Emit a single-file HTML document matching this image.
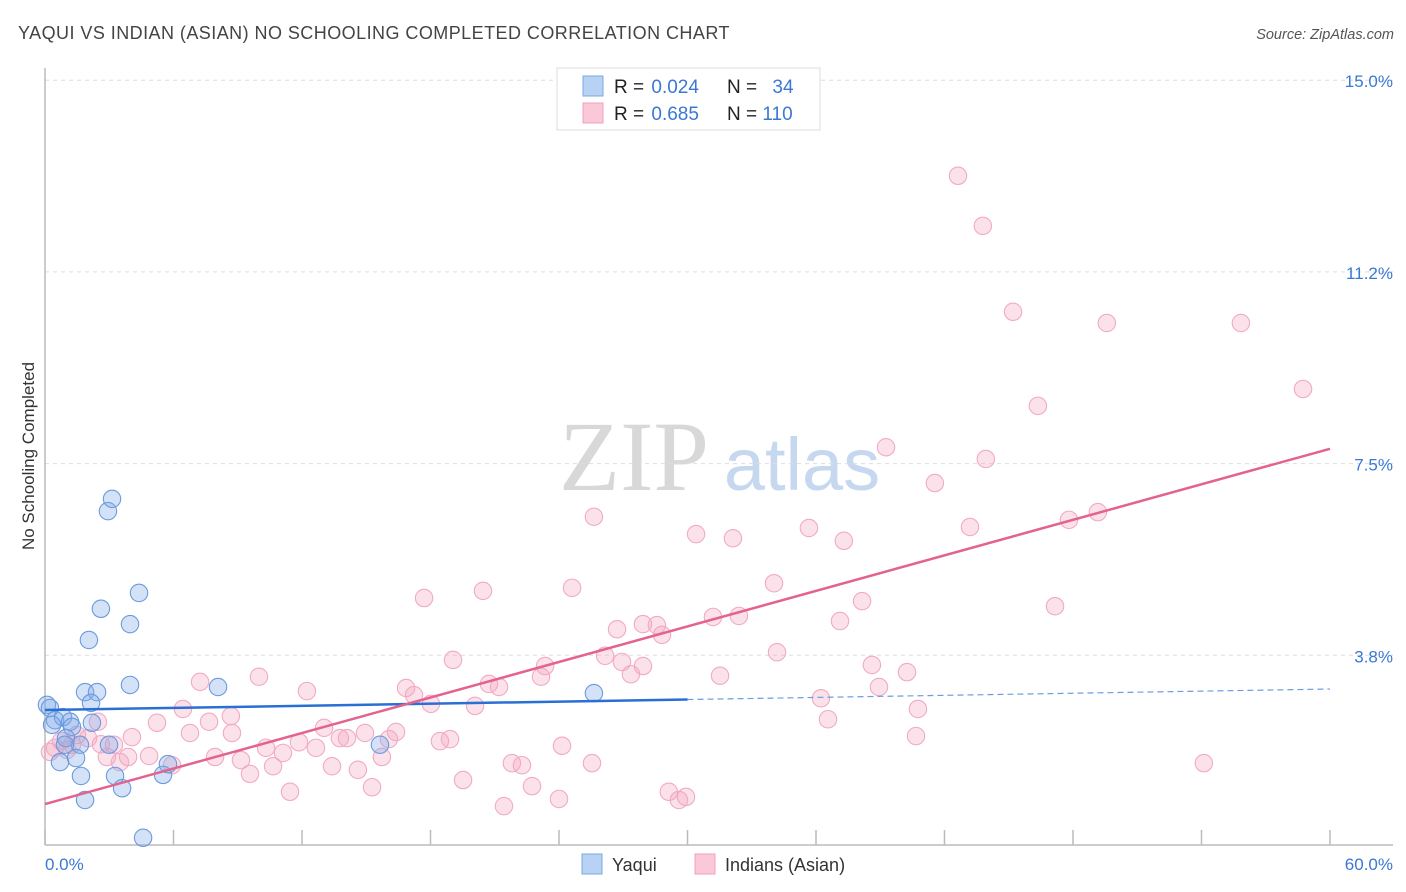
<!DOCTYPE html>
<html><head><meta charset="utf-8"><style>
body{margin:0;background:#fff;font-family:"Liberation Sans",sans-serif;}
svg{display:block}
</style></head><body>
<svg id="chart" width="1406" height="892">
<text x="18" y="39" font-size="18" letter-spacing="0.45" fill="#444">YAQUI VS INDIAN (ASIAN) NO SCHOOLING COMPLETED CORRELATION CHART</text>
<text x="1394" y="39" font-size="14.5" fill="#555" font-style="italic" text-anchor="end">Source: ZipAtlas.com</text>
<g>
<text x="634" y="490" font-size="100" fill="#d8d8d8" font-family="Liberation Serif,serif" text-anchor="middle">ZIP</text>
<text x="802" y="490" font-size="74" fill="#c6d8f0" text-anchor="middle">atlas</text>
</g>
<text transform="translate(34,456) rotate(-90)" font-size="17" fill="#333" text-anchor="middle">No Schooling Completed</text>
<g id="grid"></g><g id="axes"></g><g id="marks"></g><g id="trends"></g>
<g>
<rect x="557" y="68" width="263" height="62" fill="#fff" stroke="#ddd"/>
<rect x="583" y="76" width="20" height="20" fill="#b8d2f4" stroke="#7aa7e3"/>
<rect x="583" y="103" width="20" height="20" fill="#fac9d8" stroke="#f0a0bc"/>
<text x="614" y="93" font-size="19" fill="#222">R = <tspan fill="#3a78d4" dx="2">0.024</tspan></text>
<text x="727" y="93" font-size="19" fill="#222">N = <tspan fill="#3a78d4" dx="10">34</tspan></text>
<text x="614" y="120" font-size="19" fill="#222">R = <tspan fill="#3a78d4" dx="2">0.685</tspan></text>
<text x="727" y="120" font-size="19" fill="#222">N = <tspan fill="#3a78d4">110</tspan></text>
</g>
<g>
<rect x="582" y="854" width="20" height="20" fill="#b8d2f4" stroke="#7aa7e3"/>
<text x="612" y="871" font-size="18" fill="#333">Yaqui</text>
<rect x="695" y="854" width="20" height="20" fill="#fac9d8" stroke="#f0a0bc"/>
<text x="725" y="871" font-size="18" fill="#333">Indians (Asian)</text>
</g>
</svg>
<script>
const yTicks=[3.75,7.5,11.25,15];
const yTickLabels=["3.8%","7.5%","11.2%","15.0%"];
const xTicks=[0,6,12,18,24,30,36,42,48,54,60];
const yaquiX=[0.09,0.23,0.47,0.84,1.17,1.26,1.63,0.7,0.98,1.45,1.68,1.87,1.87,2.43,2.15,2.19,2.05,2.61,2.94,3.13,2.99,3.27,3.6,3.97,4.39,3.97,4.58,5.51,5.74,8.08,15.64,25.63,0.33,0.93];
const yaquiY=[2.78,2.72,2.48,2.54,2.45,2.35,2.0,1.66,2.13,1.74,1.39,0.92,3.03,3.03,2.82,2.43,4.05,4.66,6.57,6.81,2.0,1.39,1.15,4.36,4.97,3.17,0.18,1.41,1.62,3.13,2.0,3.01,2.39,2.0];
const indX=[42.63,43.79,45.2,49.58,55.84,58.74,46.36,39.27,43.93,41.55,25.63,35.67,43.19,47.81,49.16,30.4,32.12,37.3,34.04,17.7,20.45,24.61,38.15,47.16,31.19,32.4,26.71,27.92,28.57,28.81,37.12,19.05,23.35,26.15,26.94,27.92,27.36,23.16,31.52,34.18,38.61,40.25,38.94,36.23,40.76,40.67,36.56,54.11,7.24,9.99,12.23,16.86,17.23,20.73,21.2,18.02,20.08,6.44,8.68,5.23,7.66,6.77,8.73,4.06,13.03,14.1,14.94,16.39,16.06,11.86,18.44,18.91,24.14,10.32,11.11,12.65,13.77,2.47,3.88,4.86,5.93,3.22,1.49,0.75,0.47,0.23,2.61,2.89,7.94,9.15,10.65,13.4,14.61,15.73,21.8,22.27,25.54,9.57,19.52,22.74,15.27,11.44,21.43,24.0,29.13,29.93,29.6,1.26,3.5,1.03,2.01];
const indY=[13.13,12.15,10.47,10.25,10.25,8.96,8.63,7.82,7.59,7.12,6.46,6.24,6.26,6.40,6.55,6.12,6.04,5.99,5.16,4.87,5.01,5.07,4.81,4.71,4.5,4.52,4.26,4.36,4.34,4.15,4.42,3.66,3.54,3.74,3.62,3.54,3.38,3.33,3.35,3.81,3.56,3.42,3.13,2.91,2.70,2.17,2.50,1.64,3.23,3.33,3.05,3.11,2.97,3.19,3.13,2.80,2.76,2.70,2.56,2.43,2.45,2.23,2.23,2.15,2.33,2.13,2.23,2.25,2.11,2.05,2.07,2.11,1.98,1.94,1.84,1.94,2.13,2.45,1.76,1.78,1.60,2.0,2.19,2.07,1.94,1.86,2.01,1.76,1.76,1.70,1.58,1.58,1.51,1.76,1.64,1.60,1.64,1.43,1.31,1.19,1.17,1.08,0.80,0.94,1.08,0.98,0.92,2.0,1.66,1.90,2.13];
const yaquiTrend=[2.68,3.09];
const indTrend=[0.84,7.79];
const NS="http://www.w3.org/2000/svg";
const X=v=>45+v/60*1285, Y=v=>847-v/3.75*191.7;
function mk(tag,attrs,parent){const e=document.createElementNS(NS,tag);for(const k in attrs)e.setAttribute(k,attrs[k]);document.getElementById(parent).appendChild(e);return e;}
yTicks.forEach((t,i)=>{
 const l=mk('line',{x1:45,x2:1393,y1:Y(t),y2:Y(t),stroke:'#ddd','stroke-dasharray':'4,4'},'grid');
 
 
 const tx=mk('text',{x:1393,y:Y(t)+7,'font-size':17,fill:'#3a78d4','text-anchor':'end'},'grid');
 tx.textContent=yTickLabels[i];
 
 
});
const ax=mk('line',{x1:45,x2:1393,y1:845,y2:845,stroke:'#bbb','stroke-width':1.5},'axes');


const ay=mk('line',{x1:45,x2:45,y1:68,y2:845,stroke:'#bbb','stroke-width':1.5},'axes');


xTicks.forEach(t=>{const l=mk('line',{x1:X(t),x2:X(t),y1:830,y2:845,stroke:'#bbb','stroke-width':1.5},'axes');
 
 });
const xl0=mk('text',{x:45,y:870,'font-size':17,fill:'#3a78d4'},'axes');xl0.textContent='0.0%';


const xl1=mk('text',{x:1393,y:870,'font-size':17,fill:'#3a78d4','text-anchor':'end'},'axes');xl1.textContent='60.0%';


indX.forEach((v,i)=>{const c=mk('circle',{cx:X(v),cy:Y(indY[i]),r:8.7,fill:'rgba(244,165,192,0.33)',stroke:'#f2aac4','stroke-width':1.1},'marks');
 
 });
yaquiX.forEach((v,i)=>{const c=mk('circle',{cx:X(v),cy:Y(yaquiY[i]),r:8.7,fill:'rgba(130,172,232,0.35)',stroke:'#6b9ade','stroke-width':1.1},'marks');
 
 });
const yt1=mk('line',{x1:X(0),y1:Y(yaquiTrend[0]),x2:X(30),y2:Y(yaquiTrend[0]+(yaquiTrend[1]-yaquiTrend[0])/2),stroke:'#2a6fd6','stroke-width':2.5},'trends');


const yt2=mk('line',{x1:X(30),y1:Y(yaquiTrend[0]+(yaquiTrend[1]-yaquiTrend[0])/2),x2:X(60),y2:Y(yaquiTrend[1]),stroke:'#6b9de0','stroke-width':1.2,'stroke-dasharray':'6,4'},'trends');


const it=mk('line',{x1:X(0),y1:Y(indTrend[0]),x2:X(60),y2:Y(indTrend[1]),stroke:'#e4628e','stroke-width':2.5},'trends');


</script>
</body></html>
